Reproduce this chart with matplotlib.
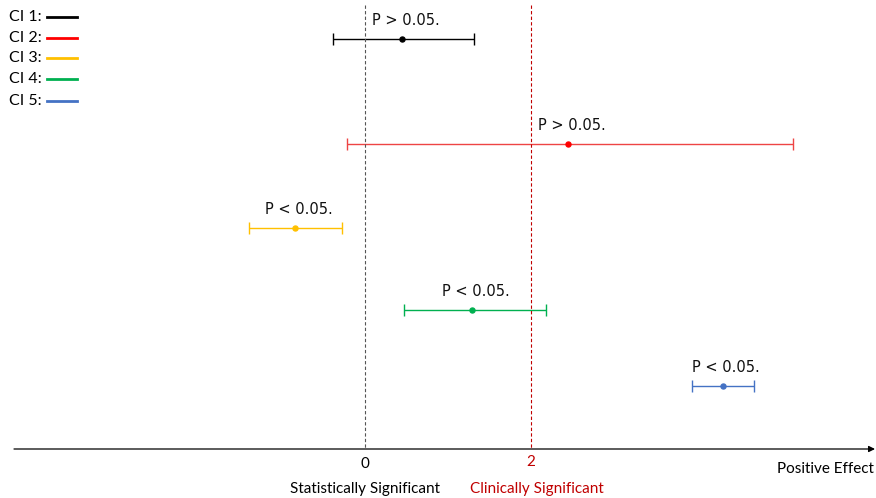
import matplotlib
matplotlib.use("Agg")
import matplotlib.pyplot as plt

# confidence intervals: point estimate with lower / upper bound
labels = ["CI 1:", "CI 2:", "CI 3:", "CI 4:", "CI 5:"]
est = [0.45, 2.45, -0.84, 1.29, 4.31]
lower = [-0.39, -0.22, -1.40, 0.47, 3.94]
upper = [1.31, 5.16, -0.28, 2.18, 4.69]
pvals = ["P > 0.05.", "P > 0.05.", "P < 0.05.", "P < 0.05.", "P < 0.05."]
colors = ["#000000", "#FF0000", "#FFC000", "#00B050", "#4472C4"]
bar_colors = ["#000000", "#EE4444", "#FFC000", "#00B050", "#4472C4"]

stat_sig = 0
clin_sig = 2

# vertical placement of each row (pixel rows, top down)
rows = [39, 144, 228, 310, 386]
axis_y = 449

fig = plt.figure(figsize=(8.76, 4.98), dpi=100)
ax = fig.add_axes([0, 0, 1, 1])
ax.set_xlim((0 - 365) / 83, (876 - 365) / 83)
ax.set_ylim(498, 0)
ax.axis("off")

for i in range(len(est)):
    ax.errorbar(est[i], rows[i],
                xerr=[[est[i] - lower[i]], [upper[i] - est[i]]],
                fmt="o", color=colors[i], ecolor=bar_colors[i],
                markersize=3.6, elinewidth=1, capsize=4.3, capthick=1)
    ax.text(est[i] + 0.04, rows[i] - 19, pvals[i], ha="center", va="center",
            fontsize=10.5, family="DejaVu Sans", color="#111111")

# reference lines
ax.plot([stat_sig, stat_sig], [5, axis_y], ls=(0, (3, 2)), lw=0.8, color="#555555")
ax.plot([clin_sig, clin_sig], [5, axis_y], ls=(0, (3, 2)), lw=0.8, color="#C00000")

# horizontal effect axis with arrow
x0, x1 = ax.get_xlim()
ax.annotate("", xy=((875 - 365) / 83, axis_y), xytext=((14 - 365) / 83, axis_y),
            arrowprops=dict(arrowstyle="-|>", color="black", lw=0.9,
                            mutation_scale=9, shrinkA=0, shrinkB=0))

ax.text(stat_sig, 464, "0", ha="center", va="center", fontsize=11,
        family="Lato", color="black")
ax.text(clin_sig, 462, "2", ha="center", va="center", fontsize=11,
        family="Lato", color="#C00000")
ax.text(stat_sig, 489, "Statistically Significant", ha="center", va="center",
        fontsize=11, family="Lato", color="black")
ax.text(clin_sig + 0.07, 489, "Clinically Significant", ha="center", va="center",
        fontsize=11, family="Lato", color="#C00000")
ax.text(x1 - 0.03, 469, "Positive Effect", ha="right", va="center",
        fontsize=11, family="Lato", color="black")

# legend drawn by hand in the top left corner
leg_y = [17, 38, 58, 79, 101]
to_x = lambda px: (px - 365) / 83
for i in range(len(labels)):
    ax.text(to_x(9), leg_y[i], labels[i], ha="left", va="center",
            fontsize=11.5, family="Lato", color="black")
    ax.plot([to_x(47), to_x(77)], [leg_y[i], leg_y[i]], color=colors[i], lw=2)

fig.savefig("out.png", dpi=100)
